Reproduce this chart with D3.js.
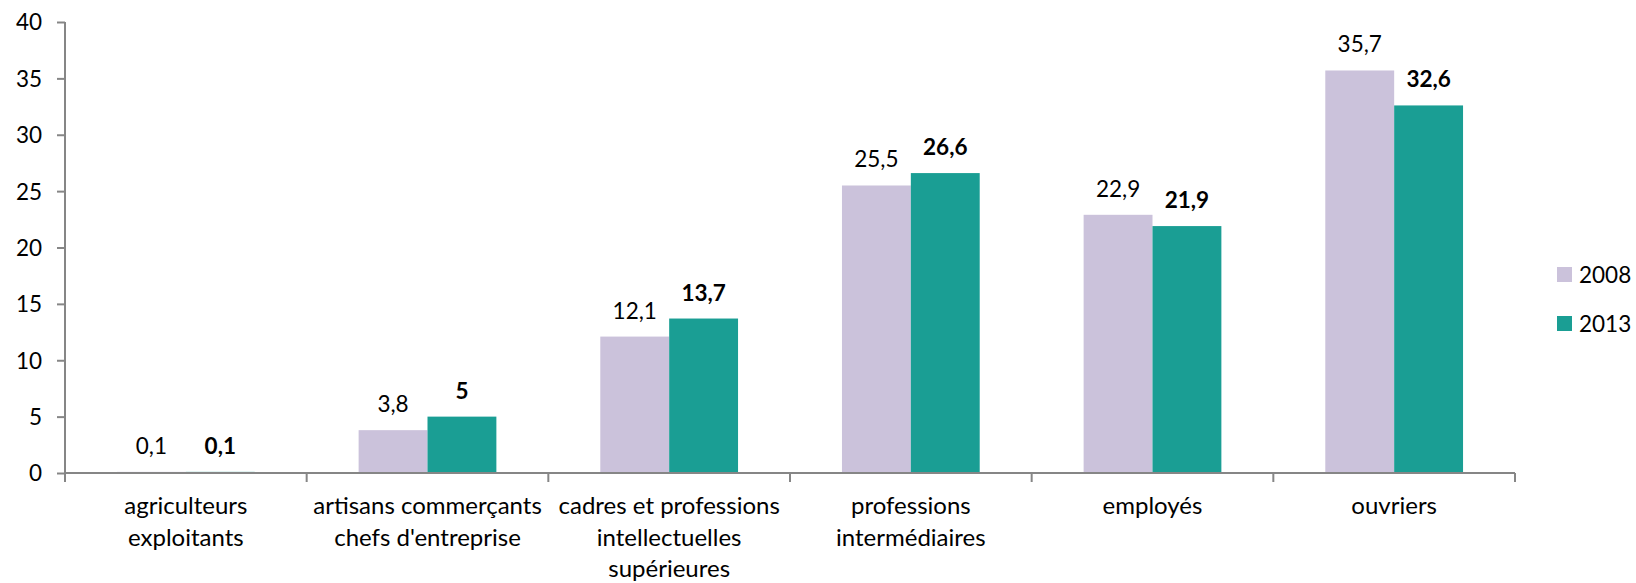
<!DOCTYPE html>
<html>
<head>
<meta charset="utf-8">
<script src="https://cdn.jsdelivr.net/npm/d3@7"></script>
<style>
  body { margin: 0; background: #fff; }
  text { font-family: Lato, "Open Sans", sans-serif; fill: #000; }
</style>
</head>
<body>
<div id="bar-chart"></div>
<script>
const categories = [
  ["agriculteurs", "exploitants"],
  ["artisans commerçants", "chefs d'entreprise"],
  ["cadres et professions", "intellectuelles", "supérieures"],
  ["professions", "intermédiaires"],
  ["employés"],
  ["ouvriers"]
];
const years = ["2008", "2013"];
const values2008 = [0.1, 3.8, 12.1, 25.5, 22.9, 35.7];
const values2013 = [0.1, 5, 13.7, 26.6, 21.9, 32.6];
const yTicks = [0, 5, 10, 15, 20, 25, 30, 35, 40];
const colors = ["#cbc2db", "#1a9e94"];

class barViz {
  constructor(parentElement) {
    this.parentElement = parentElement;
    this.initVis();
  }

  initVis() {
    let vis = this;
    vis.margin = { top: 22, right: 121, bottom: 110, left: 65 };
    vis.width = 1636 - vis.margin.left - vis.margin.right;
    vis.height = 583 - vis.margin.top - vis.margin.bottom;

    vis.svg = d3
      .select("#" + vis.parentElement)
      .append("svg")
      .attr("width", 1636)
      .attr("height", 583)
      .append("g")
      .attr("transform", "translate(" + vis.margin.left + "," + vis.margin.top + ")");

    vis.x = d3.scaleBand().domain(d3.range(categories.length)).range([0, vis.width]);
    vis.y = d3.scaleLinear().domain([0, 40]).range([vis.height, 0]);
    vis.barWidth = vis.x.bandwidth() * 0.285;

    vis.updateVis();
  }

  updateVis() {
    let vis = this;
    let data = [];
    categories.forEach((c, i) => {
      data.push({ i: i, s: 0, v: values2008[i] });
      data.push({ i: i, s: 1, v: values2013[i] });
    });
    let xPos = (d) =>
      vis.x(d.i) + vis.x.bandwidth() / 2 + (d.s - 1) * vis.barWidth;

    vis.svg
      .selectAll(".bar")
      .data(data)
      .enter()
      .append("rect")
      .attr("class", "bar")
      .attr("x", xPos)
      .attr("y", (d) => vis.y(d.v))
      .attr("width", vis.barWidth)
      .attr("height", (d) => vis.height - vis.y(d.v))
      .style("fill", (d) => colors[d.s]);

    vis.svg
      .selectAll(".bar-label")
      .data(data)
      .enter()
      .append("text")
      .attr("class", "bar-label")
      .attr("x", (d) => xPos(d) + vis.barWidth / 2)
      .attr("y", (d) => vis.y(d.v) - 18)
      .attr("text-anchor", "middle")
      .style("font-size", "22.5px")
      .style("font-weight", (d) => (d.s == 1 ? "bold" : "normal"))
      .text((d) => String(d.v).replace(".", ","));

    // y axis
    let yAxis = d3.axisLeft(vis.y).tickValues(yTicks).tickSize(8).tickSizeOuter(0);
    let yg = vis.svg.append("g").attr("class", "axis y-axis").call(yAxis);
    yg.selectAll("text").style("font-size", "22.5px").attr("x", -23).attr("dy", "0.35em");

    // x axis
    let xg = vis.svg.append("g").attr("transform", "translate(0," + vis.height + ")");
    xg.append("line").attr("x1", 0).attr("x2", vis.width).attr("y1", 0).attr("y2", 0);
    xg.selectAll(".xtick")
      .data(d3.range(categories.length + 1))
      .enter()
      .append("line")
      .attr("class", "xtick")
      .attr("x1", (d) => d * vis.x.bandwidth())
      .attr("x2", (d) => d * vis.x.bandwidth())
      .attr("y1", 0)
      .attr("y2", 9);
    xg.selectAll("line").style("stroke", "#868686").style("stroke-width", 2);
    yg.selectAll("line, path").style("stroke", "#868686").style("stroke-width", 2);
    yg.select(".domain").remove();
    vis.svg.append("line")
      .attr("x1", 0).attr("x2", 0).attr("y1", 0).attr("y2", vis.height + 9)
      .style("stroke", "#868686").style("stroke-width", 2);

    let labels = xg.selectAll(".xlabel")
      .data(categories)
      .enter()
      .append("text")
      .attr("class", "xlabel")
      .attr("text-anchor", "middle")
      .style("font-size", "24px")
      .attr("transform", (d, i) => "translate(" + (vis.x(i) + vis.x.bandwidth() / 2) + ",0)");
    labels.selectAll("tspan")
      .data((d) => d)
      .enter()
      .append("tspan")
      .attr("x", 0)
      .attr("y", (d, j) => 41 + j * 31.5)
      .text((d) => d);

    // legend
    let legend = vis.svg.append("g").attr("transform", "translate(" + (vis.width + 42) + ",0)");
    years.forEach((yr, i) => {
      legend.append("rect")
        .attr("x", 0)
        .attr("y", 245 + i * 49)
        .attr("width", 15)
        .attr("height", 15)
        .style("fill", colors[i]);
      legend.append("text")
        .attr("x", 22)
        .attr("y", 253 + i * 49)
        .attr("dy", "0.35em")
        .style("font-size", "22.5px")
        .text(yr);
    });
  }
}

new barViz("bar-chart");
</script>
</body>
</html>
